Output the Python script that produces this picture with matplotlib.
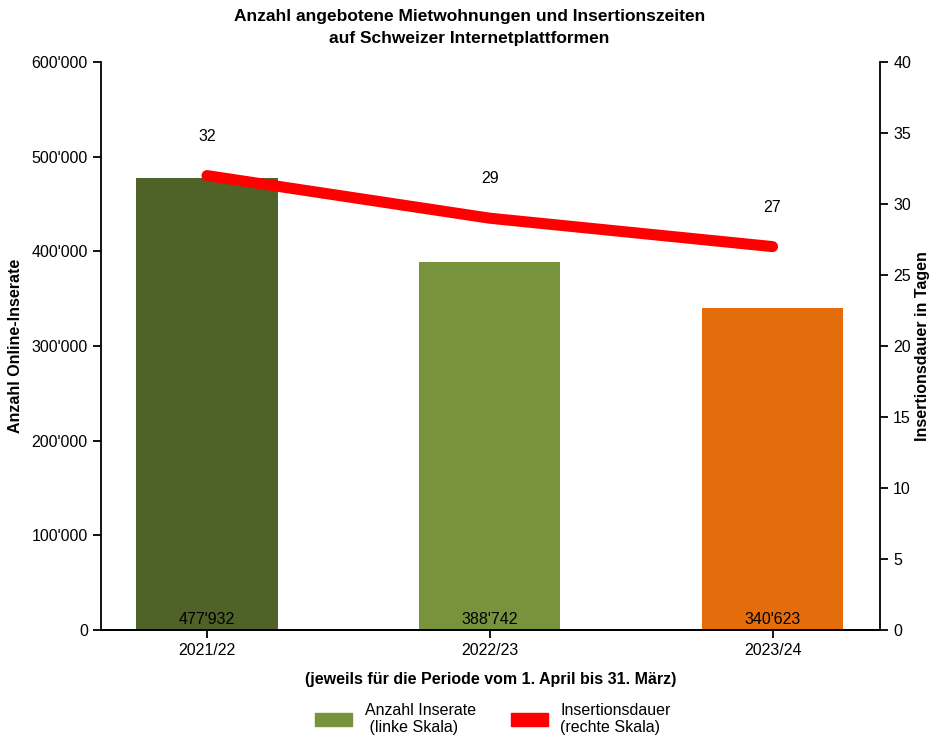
import matplotlib.pyplot as plt
import matplotlib.patches as mpatches
from matplotlib.ticker import FuncFormatter

plt.rcParams["font.family"] = ["Liberation Sans", "DejaVu Sans"]

periods = ["2021/22", "2022/23", "2023/24"]
inserate = [477932, 388742, 340623]
dauer = [32, 29, 27]
bar_colors = ["#4f6228", "#77933c", "#e46c0a"]


def swiss(v, pos=None):
    return f"{int(v):,}".replace(",", "'")


fig = plt.figure(figsize=(9.3, 7.35), dpi=100)
ax = fig.add_axes([0.1086, 0.1429, 0.8376, 0.7727])
ax2 = ax.twinx()

x = range(len(periods))
ax.bar(x, inserate, width=0.5, color=bar_colors, zorder=2)
for xi, v in zip(x, inserate):
    ax.text(xi, 3000, swiss(v), ha="center", va="bottom", fontsize=11.5)

ax.set_ylim(0, 600000)
ax.set_yticks(range(0, 600001, 100000))
ax.yaxis.set_major_formatter(FuncFormatter(swiss))
ax.set_xlim(-0.375, 2.38)
ax.set_xticks(list(x))
ax.set_xticklabels(periods)
ax.set_ylabel("Anzahl Online-Inserate", fontsize=11.5, fontweight="bold", labelpad=6)
ax.set_xlabel("(jeweils für die Periode vom 1. April bis 31. März)",
              fontsize=11.5, fontweight="bold", labelpad=10)

ax2.plot(list(x), dauer, color="#ff0000", linewidth=8, solid_capstyle="round", zorder=3)
for xi, d in zip(x, dauer):
    ax2.annotate(str(d), (xi, d), xytext=(0, 23), textcoords="offset points",
                 ha="center", va="bottom", fontsize=11.5)
ax2.set_ylim(0, 40)
ax2.set_yticks(range(0, 41, 5))
ax2.set_ylabel("Insertionsdauer in Tagen", fontsize=11.5, fontweight="bold", labelpad=3)

for a in (ax, ax2):
    a.spines["top"].set_visible(False)
    for s in ("left", "right", "bottom"):
        a.spines[s].set_linewidth(1.3)
    a.tick_params(direction="out", length=6, width=1.3, labelsize=11.5)
ax.spines["right"].set_visible(False)
ax2.spines["left"].set_visible(False)

fig.suptitle("Anzahl angebotene Mietwohnungen und Insertionszeiten\nauf Schweizer Internetplattformen",
             x=0.505, y=0.988, fontsize=12.5, fontweight="bold", linespacing=1.6)

handles = [mpatches.Patch(color="#77933c"),
           mpatches.Patch(color="#ff0000")]
fig.legend(handles, ["Anzahl Inserate\n (linke Skala)", "Insertionsdauer\n(rechte Skala)"],
           loc="lower center", bbox_to_anchor=(0.53, -0.02), ncol=2, frameon=False,
           fontsize=11.5, handlelength=2.3, handleheight=0.8, columnspacing=2.2)

fig.savefig("out.png", dpi=100)
